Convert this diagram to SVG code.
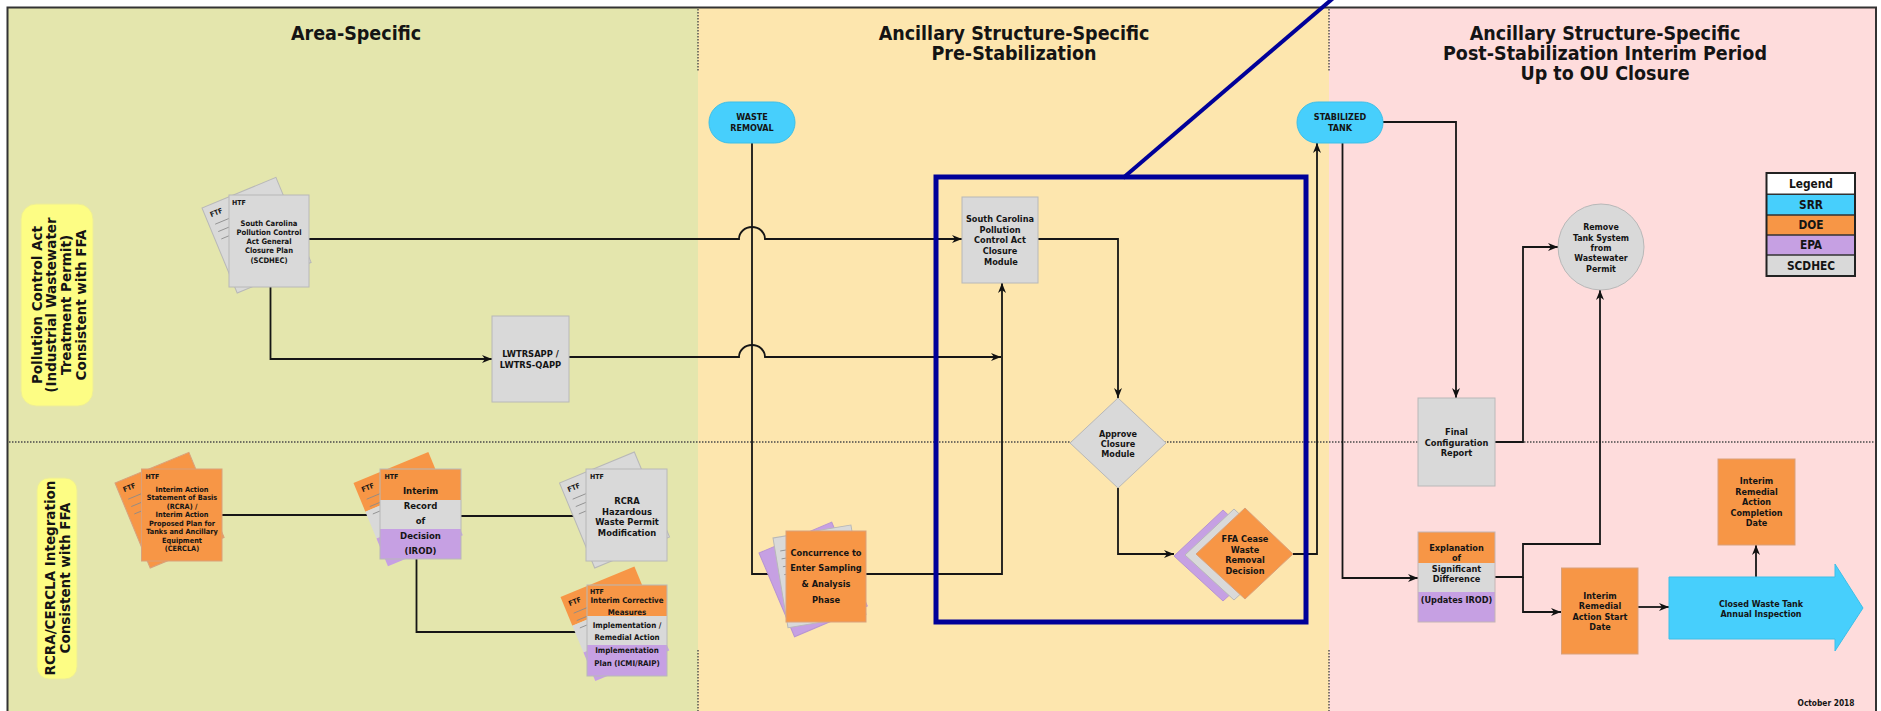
<svg xmlns="http://www.w3.org/2000/svg" width="1881" height="711" viewBox="0 0 1881 711">
<style>
.t{font-family:'DejaVu Sans Condensed','Liberation Sans',sans-serif;font-weight:bold;fill:#141414;text-anchor:middle}
.ttl{font-size:19.5px}
.s{font-family:'DejaVu Sans Condensed','Liberation Sans',sans-serif;font-weight:bold;fill:#141414;font-size:7px}
.side{font-family:'DejaVu Sans',Verdana,sans-serif;font-weight:bold;fill:#141414;font-size:13.5px;text-anchor:middle}
.c{fill:none;stroke:#161616;stroke-width:1.8}
.ar{marker-end:url(#ah)}
.gr{fill:#d9d9d9;stroke:#b8b8b8;stroke-width:1}
.or{fill:#f79646;stroke:#d9a07a;stroke-width:1}
.pu{fill:#c6a0e3;stroke:#b795d2;stroke-width:1}
.bl{fill:#47cffc;stroke:#3cbfe8;stroke-width:1}
.nb{stroke:none}
.scr{stroke:#8a8a8a;stroke-width:0.8;fill:none}
.dot{fill:none;stroke:#4a4a4a;stroke-width:1.4;stroke-dasharray:1.5 1.5}
</style>
<defs>
<marker id="ah" markerWidth="10" markerHeight="8" refX="10" refY="4" orient="auto" markerUnits="userSpaceOnUse"><path d="M0,0 L10,4 L0,8 L3,4 z" fill="#111"/></marker>
</defs>

<!-- lanes -->
<g id="lanes">
<rect x="7" y="7" width="691" height="710" fill="#e4e6ad"/>
<rect x="698" y="7" width="631" height="710" fill="#fde6ae"/>
<rect x="1329" y="7" width="547" height="710" fill="#fedcdc"/>
<path d="M7.5,720 V7.5 H1876 V720" fill="none" stroke="#333" stroke-width="2"/>
<path class="dot" d="M698,9 V72 M1329,9 V72 M698,650 V711 M1329,650 V711"/>
<path class="dot" d="M9,442 H1875"/>
<text class="t ttl" x="356" y="40">Area-Specific</text>
<text class="t ttl" x="1014" y="39.5">Ancillary Structure-Specific<tspan x="1014" dy="20">Pre-Stabilization</tspan></text>
<text class="t ttl" x="1605" y="39.5">Ancillary Structure-Specific<tspan x="1605" dy="20">Post-Stabilization Interim Period</tspan><tspan x="1605" dy="20">Up to OU Closure</tspan></text>
</g>

<g id="lane-label-pca">
<rect x="21" y="204" width="72" height="202" rx="15" fill="#fdfd84" stroke="#ecec9a"/>
<g transform="translate(57,305) rotate(-90)">
<text class="side" x="0" y="-15.3">Pollution Control Act</text>
<text class="side" x="0" y="-0.6">(Industrial Wastewater</text>
<text class="side" x="0" y="14.1">Treatment Permit)</text>
<text class="side" x="0" y="28.8">Consistent with FFA</text>
</g>
</g>
<g id="lane-label-rcra">
<rect x="37" y="478" width="40" height="201" rx="12" fill="#fdfd84" stroke="#ecec9a"/>
<g transform="translate(57,578) rotate(-90)">
<text class="side" x="0" y="-2.3">RCRA/CERCLA Integration</text>
<text class="side" x="0" y="13.4">Consistent with FFA</text>
</g>
</g>

<!-- connectors -->
<g id="connectors">
<path class="c ar" d="M309,239 H739 A13,12 0 0 1 765,239 H962"/>
<path class="c ar" d="M270.5,287 V359 H492"/>
<path class="c ar" d="M569,357 H739 A13,12 0 0 1 765,357 H1001"/>
<path class="c ar" d="M866,574 H1002 V283"/>
<path class="c ar" d="M752,143 V574 H786"/>
<path class="c ar" d="M1038,239 H1118 V398"/>
<path class="c ar" d="M1118,487 V554 H1174"/>
<path class="c ar" d="M1293,554 H1317 V143"/>
<path class="c ar" d="M1383,122 H1456 V398"/>
<path class="c ar" d="M1342.5,143 V578 H1418"/>
<path class="c ar" d="M1495,442 H1523 V247 H1558"/>
<path class="c ar" d="M1495,577 H1523 V544 H1600 V290"/>
<path class="c ar" d="M1523,577 V612 H1561"/>
<path class="c ar" d="M1638,607 H1669"/>
<path class="c ar" d="M1756,577 V545"/>
<path class="c ar" d="M222,515 H380"/>
<path class="c ar" d="M461,516 H586"/>
<path class="c ar" d="M416.5,559 V632 H587"/>
</g>

<!-- highlight frame -->
<g id="highlight">
<rect x="936" y="177" width="370" height="445" fill="none" stroke="#000099" stroke-width="5"/>
<line x1="1123" y1="178" x2="1338" y2="-6" stroke="#000099" stroke-width="4"/>
</g>

<!-- nodes -->
<g id="sc-closure-plan">
<g transform="translate(202,208) rotate(-22.5)">
<rect class="gr" width="80" height="92"/>
<text class="s" x="5" y="12">FTF</text>
<path class="scr" d="M6,20 h24 M6,28 h24 M6,36 h24"/>
</g>
<rect class="gr" x="229" y="195" width="80" height="92"/>
<text class="s" x="232" y="205">HTF</text>
<text class="t" style="font-size:7.6px" x="269" y="225.7">South Carolina<tspan x="269" dy="9.2">Pollution Control</tspan><tspan x="269" dy="9.2">Act General</tspan><tspan x="269" dy="9.2">Closure Plan</tspan><tspan x="269" dy="9.2">(SCDHEC)</tspan></text>
</g>

<g id="lwtrsapp">
<rect class="gr" x="492" y="316" width="77" height="86"/>
<text class="t" style="font-size:9.3px" x="530.5" y="357.3">LWTRSAPP /<tspan x="530.5" dy="10.2">LWTRS-QAPP</tspan></text>
</g>

<g id="interim-sob">
<g transform="translate(115,483) rotate(-22.5)">
<rect class="or" width="80" height="92"/>
<text class="s" x="5" y="12">FTF</text>
<path class="scr" d="M6,20 h24 M6,28 h24 M6,36 h24"/>
</g>
<rect class="or" x="141.5" y="469" width="80.5" height="92"/>
<text class="s" x="145.5" y="478.5">HTF</text>
<text class="t" style="font-size:7.3px" x="182" y="491.9">Interim Action<tspan x="182" dy="8.5">Statement of Basis</tspan><tspan x="182" dy="8.5">(RCRA) /</tspan><tspan x="182" dy="8.5">Interim Action</tspan><tspan x="182" dy="8.5">Proposed Plan for</tspan><tspan x="182" dy="8.5">Tanks and Ancillary</tspan><tspan x="182" dy="8.5">Equipment</tspan><tspan x="182" dy="8.5">(CERCLA)</tspan></text>
</g>

<g id="irod">
<g transform="translate(353.5,483) rotate(-22.5)">
<rect class="or nb" width="81" height="31"/>
<rect class="gr nb" y="31" width="81" height="29"/>
<rect class="pu nb" y="60" width="81" height="30"/>
<text class="s" x="5" y="12">FTF</text>
<path class="scr" d="M6,20 h24 M6,28 h24 M6,36 h24"/>
</g>
<rect class="or nb" x="380" y="469" width="81" height="31"/>
<rect class="gr nb" x="380" y="500" width="81" height="29"/>
<rect class="pu nb" x="380" y="529" width="81" height="30"/>
<rect x="380" y="469" width="81" height="90" fill="none" stroke="#b8b8b8"/>
<text class="s" x="384.5" y="479">HTF</text>
<text class="t" style="font-size:9.5px" x="420.5" y="494.4">Interim<tspan x="420.5" dy="15">Record</tspan><tspan x="420.5" dy="15">of</tspan><tspan x="420.5" dy="14.7">Decision</tspan><tspan x="420.5" dy="15.3">(IROD)</tspan></text>
</g>

<g id="rcra-permit">
<g transform="translate(559.5,483) rotate(-22.5)">
<rect class="gr" width="81" height="92"/>
<text class="s" x="5" y="12">FTF</text>
<path class="scr" d="M6,20 h24 M6,28 h24 M6,36 h24"/>
</g>
<rect class="gr" x="586" y="469" width="81" height="92"/>
<text class="s" x="590" y="479">HTF</text>
<text class="t" style="font-size:9.3px" x="627" y="504.3">RCRA<tspan x="627" dy="10.5">Hazardous</tspan><tspan x="627" dy="10.5">Waste Permit</tspan><tspan x="627" dy="10.3">Modification</tspan></text>
</g>

<g id="icm-plan">
<g transform="translate(560.5,597) rotate(-22.5)">
<rect class="or nb" width="80" height="31"/>
<rect class="gr nb" y="31" width="80" height="29"/>
<rect class="pu nb" y="60" width="80" height="31"/>
<text class="s" x="5" y="12">FTF</text>
<path class="scr" d="M6,20 h24 M6,28 h24 M6,36 h24"/>
</g>
<rect class="or nb" x="587" y="585" width="80" height="31"/>
<rect class="gr nb" x="587" y="616" width="80" height="29"/>
<rect class="pu nb" x="587" y="645" width="80" height="31"/>
<rect x="587" y="585" width="80" height="91" fill="none" stroke="#b8b8b8"/>
<text class="s" x="590" y="593.5">HTF</text>
<text class="t" style="font-size:7.9px" x="627" y="602.8">Interim Corrective<tspan x="627" dy="12.5">Measures</tspan><tspan x="627" dy="12.5">Implementation /</tspan><tspan x="627" dy="12.6">Remedial Action</tspan><tspan x="627" dy="12.6">Implementation</tspan><tspan x="627" dy="12.6">Plan (ICMI/RAIP)</tspan></text>
</g>

<g id="waste-removal">
<rect class="bl" x="709" y="102" width="86" height="41" rx="20.5"/>
<text class="t" style="font-size:9px" x="752" y="120.2">WASTE<tspan x="752" dy="11">REMOVAL</tspan></text>
</g>

<g id="concurrence">
<g transform="translate(759,553) rotate(-23)">
<rect class="pu" width="79" height="91"/>
</g>
<g transform="translate(773,538) rotate(-9.5)">
<rect class="gr" width="79" height="91"/>
<path class="scr" d="M5,14 h14 M5,22 h14 M5,30 h14 M5,38 h14"/>
</g>
<rect class="or" x="786" y="531" width="80" height="91"/>
<text class="t" style="font-size:9.2px" x="826" y="555.6">Concurrence to<tspan x="826" dy="15.7">Enter Sampling</tspan><tspan x="826" dy="15.5">&amp; Analysis</tspan><tspan x="826" dy="15.8">Phase</tspan></text>
</g>

<g id="sc-closure-module">
<rect class="gr" x="962" y="197" width="76" height="86"/>
<text class="t" style="font-size:9.1px" x="1000" y="222.3">South Carolina<tspan x="1000" dy="10.6">Pollution</tspan><tspan x="1000" dy="10.5">Control Act</tspan><tspan x="1000" dy="10.6">Closure</tspan><tspan x="1001" dy="10.5">Module</tspan></text>
</g>

<g id="approve-closure">
<polygon class="gr" points="1118,398 1166,443 1118,488 1070,443"/>
<text class="t" style="font-size:9px" x="1118" y="436.5">Approve<tspan x="1118" dy="10.2">Closure</tspan><tspan x="1118" dy="10.4">Module</tspan></text>
</g>

<g id="ffa-cease">
<polygon class="pu" points="1223,510 1272,556 1223,601 1174,556"/>
<polygon class="gr" points="1234,509 1283,555 1234,600 1185,555"/>
<polygon class="or" points="1245,508 1293,554 1245,599 1196,554"/>
<text class="t" style="font-size:9.1px" x="1245" y="542.3">FFA Cease<tspan x="1245" dy="10.4">Waste</tspan><tspan x="1245" dy="10.6">Removal</tspan><tspan x="1245" dy="10.6">Decision</tspan></text>
</g>

<g id="stabilized-tank">
<rect class="bl" x="1297" y="102" width="86" height="41" rx="20.5"/>
<text class="t" style="font-size:9px" x="1340" y="120.2">STABILIZED<tspan x="1340" dy="11">TANK</tspan></text>
</g>

<g id="final-config">
<rect class="gr" x="1418" y="398" width="77" height="88"/>
<text class="t" style="font-size:9.2px" x="1456.5" y="435.3">Final<tspan x="1456.5" dy="10.6">Configuration</tspan><tspan x="1456.5" dy="10.4">Report</tspan></text>
</g>

<g id="remove-tank">
<circle class="gr" cx="1601" cy="247" r="43" stroke="#9a9a9a"/>
<text class="t" style="font-size:8.8px" x="1601" y="230.2">Remove<tspan x="1601" dy="10.3">Tank System</tspan><tspan x="1601" dy="10.4">from</tspan><tspan x="1601" dy="10.3">Wastewater</tspan><tspan x="1601" dy="10.6">Permit</tspan></text>
</g>

<g id="esd">
<rect class="or nb" x="1418" y="532" width="77" height="31"/>
<rect class="gr nb" x="1418" y="563" width="77" height="29"/>
<rect class="pu nb" x="1418" y="592" width="77" height="30"/>
<rect x="1418" y="532" width="77" height="90" fill="none" stroke="#c4b4b4"/>
<text class="t" style="font-size:9.1px" x="1456.5" y="550.6">Explanation<tspan x="1456.5" dy="10.4">of</tspan><tspan x="1456.5" dy="10.6">Significant</tspan><tspan x="1456.5" dy="10.7">Difference</tspan><tspan x="1456.5" dy="21">(Updates IROD)</tspan></text>
</g>

<g id="ira-start">
<rect class="or" x="1561.5" y="568" width="76.5" height="86"/>
<text class="t" style="font-size:9px" x="1600" y="599">Interim<tspan x="1600" dy="10.3">Remedial</tspan><tspan x="1600" dy="10.7">Action Start</tspan><tspan x="1600" dy="10.3">Date</tspan></text>
</g>

<g id="annual-inspection">
<polygon class="bl" points="1669,577 1835,577 1835,564 1863,608 1835,651 1835,639 1669,639"/>
<text class="t" style="font-size:8.9px" x="1761" y="606.5">Closed Waste Tank<tspan x="1761" dy="10.7">Annual Inspection</tspan></text>
</g>

<g id="ira-completion">
<rect class="or" x="1718" y="459" width="77" height="86"/>
<text class="t" style="font-size:9px" x="1756.5" y="484.3">Interim<tspan x="1756.5" dy="10.3">Remedial</tspan><tspan x="1756.5" dy="10.7">Action</tspan><tspan x="1756.5" dy="10.3">Completion</tspan><tspan x="1756.5" dy="10.7">Date</tspan></text>
</g>

<g id="legend">
<rect x="1766.5" y="173" width="88.5" height="21.3" fill="#ffffff"/>
<rect x="1766.5" y="194.3" width="88.5" height="20.7" fill="#47cffc"/>
<rect x="1766.5" y="215" width="88.5" height="20" fill="#f79646"/>
<rect x="1766.5" y="235" width="88.5" height="20" fill="#c6a0e3"/>
<rect x="1766.5" y="255" width="88.5" height="21" fill="#d9d9d9"/>
<path d="M1766.5,194.3 H1855 M1766.5,215 H1855 M1766.5,235 H1855 M1766.5,255 H1855" stroke="#333" stroke-width="1.5"/>
<rect x="1766.5" y="173" width="88.5" height="103" fill="none" stroke="#222" stroke-width="2"/>
<text class="t" style="font-size:11.8px" x="1811" y="187.7">Legend</text>
<text class="t" style="font-size:11.8px" x="1811" y="208.9">SRR</text>
<text class="t" style="font-size:11.8px" x="1811" y="229.2">DOE</text>
<text class="t" style="font-size:11.8px" x="1811" y="249.2">EPA</text>
<text class="t" style="font-size:11.8px" x="1811" y="269.7">SCDHEC</text>
</g>

<text class="t" style="font-size:8.3px" x="1826" y="706">October 2018</text>
</svg>
